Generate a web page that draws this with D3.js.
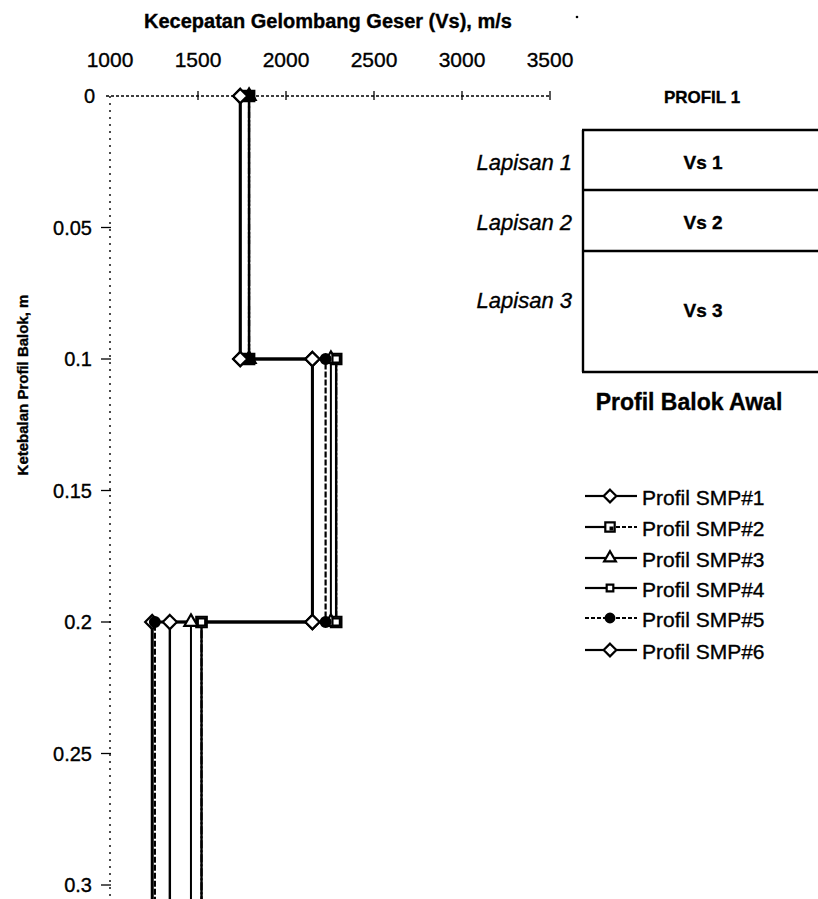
<!DOCTYPE html>
<html>
<head>
<meta charset="utf-8">
<script src="https://cdn.jsdelivr.net/npm/d3@7"></script>
<style>
  html, body { margin: 0; padding: 0; background: #fff; }
  svg { display: block; font-family: "Liberation Sans", Arial, sans-serif; }
  .ink { stroke: #000; stroke-width: 0.35px; }
</style>
</head>
<body>
<svg id="chart" width="818" height="899"></svg>
<script>
// Layer boundaries (depth of beam profile, m); the last layer runs past the plotted range
const layerDepths = [0, 0.1, 0.2, 0.31];
const layerNames = ["Lapisan 1", "Lapisan 2", "Lapisan 3"];
const layerVsLabels = ["Vs 1", "Vs 2", "Vs 3"];

// Shear-wave velocity (m/s) of each layer, per SMP profile
const seriesNames = ["Profil SMP#1", "Profil SMP#2", "Profil SMP#3", "Profil SMP#4", "Profil SMP#5", "Profil SMP#6"];
const smp1 = [1740, 2150, 1240];
const smp2 = [1790, 2285, 1520];
const smp3 = [1790, 2255, 1460];
const smp4 = [1790, 2285, 1520];
const smp5 = [1790, 2225, 1255];
const smp6 = [1740, 2150, 1340];
const seriesValues = [smp1, smp2, smp3, smp4, smp5, smp6];

const vsTicks = [1000, 1500, 2000, 2500, 3000, 3500];
const depthTicks = [0, 0.05, 0.1, 0.15, 0.2, 0.25, 0.3];
const depthTickLabels = ["0", "0.05", "0.1", "0.15", "0.2", "0.25", "0.3"];

const svg = d3.select("#chart");
const x = d3.scaleLinear().domain([1000, 3500]).range([110, 550]);
const y = d3.scaleLinear().domain([0, 0.3]).range([96, 885]);

// Diamond drawn as a square turned 45 degrees
const symbolRhombus = {
  draw(ctx, size) {
    const r = Math.sqrt(size / 2);
    ctx.moveTo(0, -r); ctx.lineTo(r, 0); ctx.lineTo(0, r); ctx.lineTo(-r, 0); ctx.closePath();
  }
};

// Marker and line style per series
const markerStyles = [
  { type: symbolRhombus, size: 100, fill: "#fff", dash: null, legendDash: [null, null], width: 3 },
  { type: d3.symbolSquare, size: 110, fill: "#fff", dash: "8,2,2,2", legendDash: [null, "4,2"], width: 2.2, inner: true },
  { type: d3.symbolTriangle, size: 75, fill: "#fff", dash: null, legendDash: [null, null], width: 2 },
  { type: d3.symbolSquare, size: 55, fill: "#fff", dash: null, legendDash: [null, null], width: 2.4 },
  { type: d3.symbolCircle, size: 75, fill: "#000", dash: "6,2", legendDash: ["4,2", "4,2"], width: 2.2 },
  { type: symbolRhombus, size: 100, fill: "#fff", dash: null, legendDash: [null, null], width: 2.4 }
];

// Titles
svg.append("text").attr("class", "ink")
  .attr("x", 328).attr("y", 21)
  .attr("text-anchor", "middle").attr("dominant-baseline", "central")
  .attr("font-weight", "bold").attr("font-size", 20)
  .text("Kecepatan Gelombang Geser (Vs), m/s");
svg.append("circle").attr("cx", 577).attr("cy", 17).attr("r", 1.3).attr("fill", "#000");

svg.append("text").attr("class", "ink")
  .attr("transform", "translate(22,385) rotate(-90)")
  .attr("text-anchor", "middle").attr("dominant-baseline", "central")
  .attr("font-weight", "bold").attr("font-size", 15)
  .text("Ketebalan Profil Balok, m");

// Top (velocity) axis
const xAxis = svg.append("g").attr("class", "x-axis");
xAxis.append("line")
  .attr("x1", x(1000) - 4).attr("x2", x(3500))
  .attr("y1", y(0)).attr("y2", y(0))
  .attr("stroke", "#000").attr("stroke-width", 1.4)
  .attr("stroke-dasharray", "3,2");
xAxis.selectAll("line.tick").data(vsTicks.slice(1)).join("line")
  .attr("class", "tick")
  .attr("x1", d => x(d)).attr("x2", d => x(d))
  .attr("y1", y(0) - 5).attr("y2", y(0) + 4)
  .attr("stroke", "#000").attr("stroke-width", 1.3);
xAxis.selectAll("text").data(vsTicks).join("text").attr("class", "ink")
  .attr("x", d => x(d)).attr("y", 59)
  .attr("text-anchor", "middle").attr("dominant-baseline", "central")
  .attr("font-size", 21)
  .text(d => d);

// Left (depth) axis
const yAxis = svg.append("g").attr("class", "y-axis");
yAxis.append("line")
  .attr("x1", x(1000)).attr("x2", x(1000))
  .attr("y1", y(0)).attr("y2", 899)
  .attr("stroke", "#000").attr("stroke-width", 1.4)
  .attr("stroke-dasharray", "2,5");
yAxis.selectAll("line.tick").data(depthTicks.slice(1)).join("line")
  .attr("class", "tick")
  .attr("x1", x(1000) - 9).attr("x2", x(1000) + 1)
  .attr("y1", d => y(d)).attr("y2", d => y(d))
  .attr("stroke", "#000").attr("stroke-width", 1.3);
yAxis.selectAll("text").data(depthTicks).join("text").attr("class", "ink")
  .attr("x", d => d === 0 ? 95 : 92).attr("y", d => y(d))
  .attr("text-anchor", "end").attr("dominant-baseline", "central")
  .attr("font-size", 20)
  .text((d, i) => depthTickLabels[i]);

// Step profiles: each layer is a vertical segment joined by horizontal steps
function profilePoints(vals) {
  const pts = [];
  vals.forEach((v, i) => {
    pts.push([v, layerDepths[i]]);
    pts.push([v, layerDepths[i + 1]]);
  });
  return pts;
}
const line = d3.line().x(d => x(d[0])).y(d => y(d[1]));

const plot = svg.append("g").attr("class", "plot");
seriesValues.forEach((vals, i) => {
  const st = markerStyles[i];
  plot.append("path")
    .attr("d", line(profilePoints(vals)))
    .attr("fill", "none").attr("stroke", "#000")
    .attr("stroke-width", st.width)
    .attr("stroke-dasharray", st.dash);
});

function drawMarker(g, st, cx, cy) {
  g.append("path")
    .attr("transform", `translate(${cx},${cy})`)
    .attr("d", d3.symbol().type(st.type).size(st.size)())
    .attr("fill", st.fill).attr("stroke", "#000").attr("stroke-width", 2.2);
  if (st.inner) {
    g.append("path")
      .attr("transform", `translate(${cx + 1.5},${cy + 1.5})`)
      .attr("d", d3.symbol().type(d3.symbolSquare).size(16)())
      .attr("fill", "#000");
  }
}

seriesValues.forEach((vals, i) => {
  const st = markerStyles[i];
  const pts = profilePoints(vals).filter(p => p[1] <= 0.3);
  pts.forEach(p => drawMarker(plot, st, x(p[0]), y(p[1])));
});

// Legend
const legendRows = [496, 527, 558, 588, 618, 650];
const legend = svg.append("g").attr("class", "legend");
seriesNames.forEach((name, i) => {
  const st = markerStyles[i];
  const ly = legendRows[i];
  [[585, 610], [610, 637]].forEach((seg, k) => {
    legend.append("line")
      .attr("x1", seg[0]).attr("x2", seg[1]).attr("y1", ly).attr("y2", ly)
      .attr("stroke", "#000").attr("stroke-width", 2.2)
      .attr("stroke-dasharray", st.legendDash[k]);
  });
  drawMarker(legend, { ...st, size: st.size * 0.8 }, 610, ly);
  legend.append("text").attr("class", "ink")
    .attr("x", 642).attr("y", ly + 1)
    .attr("dominant-baseline", "central")
    .attr("font-size", 21)
    .text(name);
});

// Initial beam profile diagram
const diag = svg.append("g").attr("class", "profile");
const boxLeft = 583, boxRight = 830;
const boxRows = [130, 190, 251, 372];
diag.append("text").attr("class", "ink")
  .attr("x", 702).attr("y", 97)
  .attr("text-anchor", "middle").attr("dominant-baseline", "central")
  .attr("font-weight", "bold").attr("font-size", 17)
  .text("PROFIL 1");
diag.append("line")
  .attr("x1", boxLeft).attr("x2", boxLeft)
  .attr("y1", boxRows[0]).attr("y2", boxRows[3])
  .attr("stroke", "#000").attr("stroke-width", 2.4);
boxRows.forEach(r => {
  diag.append("line")
    .attr("x1", boxLeft - 1).attr("x2", boxRight)
    .attr("y1", r).attr("y2", r)
    .attr("stroke", "#000").attr("stroke-width", 2.4);
});
const labelRows = [162, 222, 300];
const vsRows = [162, 222, 310];
layerNames.forEach((n, i) => {
  diag.append("text").attr("class", "ink")
    .attr("x", 572).attr("y", labelRows[i])
    .attr("text-anchor", "end").attr("dominant-baseline", "central")
    .attr("font-style", "italic").attr("font-size", 22)
    .text(n);
  diag.append("text").attr("class", "ink")
    .attr("x", 703).attr("y", vsRows[i])
    .attr("text-anchor", "middle").attr("dominant-baseline", "central")
    .attr("font-weight", "bold").attr("font-size", 19)
    .text(layerVsLabels[i]);
});
diag.append("text").attr("class", "ink")
  .attr("x", 689).attr("y", 402)
  .attr("text-anchor", "middle").attr("dominant-baseline", "central")
  .attr("font-weight", "bold").attr("font-size", 23)
  .text("Profil Balok Awal");
</script>
</body>
</html>
